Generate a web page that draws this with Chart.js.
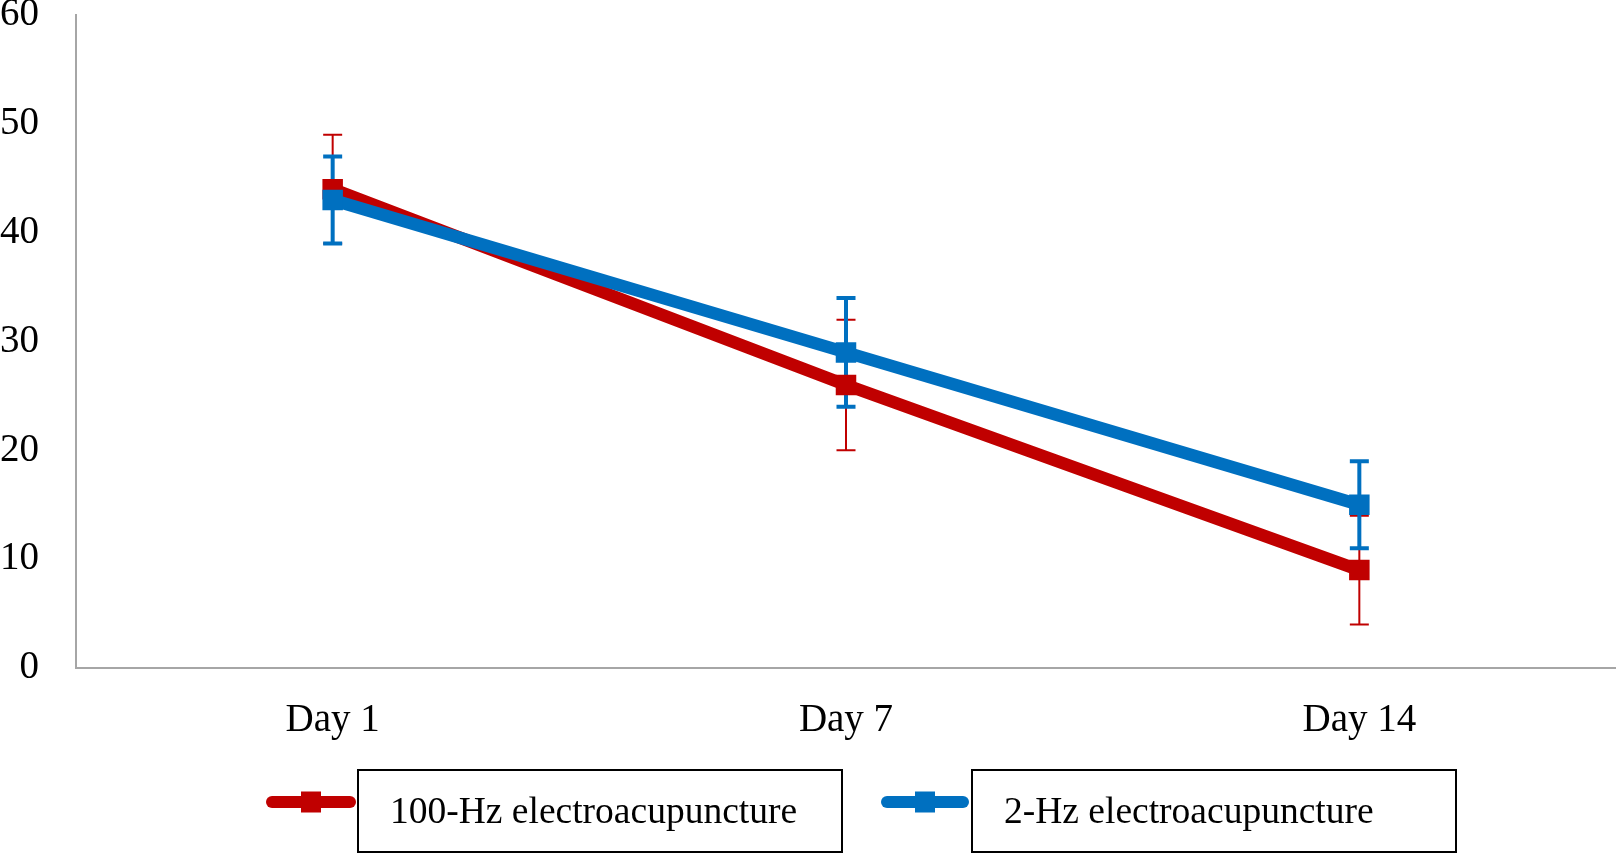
<!DOCTYPE html>
<html>
<head>
<meta charset="utf-8">
<style>
  html, body { margin: 0; padding: 0; background: #fff; overflow: hidden; }
  #wrap { width: 1616px; height: 854px; }
  canvas { display: block; }
</style>
<script src="https://cdn.jsdelivr.net/npm/chart.js@4.4.1/dist/chart.umd.min.js"></script>
</head>
<body>
<div id="wrap"><canvas id="chart" width="1616" height="854"></canvas></div>
<script>
'use strict'

// data
const days = ['Day 1', 'Day 7', 'Day 14']
const hz100 = [44, 26, 9]
const hz100Err = [5, 6, 5]
const hz2 = [43, 29, 15]
const hz2Err = [4, 5, 4]
const yTicks = [0, 10, 20, 30, 40, 50, 60]

const colors = {
  red: '#c00000',
  blue: '#0070c0',
  axis: '#a6a6a6'
}
const font = '"Liberation Serif", "Times New Roman", serif'

// error bars, drawn under the lines
const errorBarPlugin = {
  id: 'errorBars',
  beforeDatasetsDraw(chart) {
    const ctx = chart.ctx
    const x = chart.scales.x
    const y = chart.scales.y
    chart.data.datasets.forEach((ds) => {
      ctx.save()
      ctx.strokeStyle = ds.borderColor
      ctx.lineWidth = ds.errWidth
      ds.data.forEach((v, i) => {
        const px = x.getPixelForValue(i)
        const top = y.getPixelForValue(v + ds.err[i])
        const bot = y.getPixelForValue(v - ds.err[i])
        const cap = 9.5
        ctx.beginPath()
        ctx.moveTo(px, top); ctx.lineTo(px, bot)
        ctx.moveTo(px - cap, top); ctx.lineTo(px + cap, top)
        ctx.moveTo(px - cap, bot); ctx.lineTo(px + cap, bot)
        ctx.stroke()
      })
      ctx.restore()
    })
  }
}

// boxed legend entries below the axis
const boxLegendPlugin = {
  id: 'boxLegend',
  afterDraw(chart) {
    const ctx = chart.ctx
    const entries = [
      { label: '100-Hz electroacupuncture', color: colors.red, x0: 272, x1: 350, box: [358, 842] },
      { label: '2-Hz electroacupuncture', color: colors.blue, x0: 887, x1: 963, box: [972, 1456] },
    ]
    const ly = 802
    entries.forEach(e => {
      ctx.save()
      ctx.strokeStyle = e.color
      ctx.lineWidth = 12
      ctx.lineCap = 'round'
      ctx.beginPath()
      ctx.moveTo(e.x0, ly); ctx.lineTo(e.x1, ly)
      ctx.stroke()
      ctx.fillStyle = e.color
      const mx = (e.x0 + e.x1) / 2
      ctx.fillRect(mx - 10, ly - 10.5, 20, 21)
      ctx.strokeStyle = '#000'
      ctx.lineWidth = 2
      ctx.lineCap = 'butt'
      ctx.strokeRect(e.box[0], 770, e.box[1] - e.box[0], 82)
      ctx.fillStyle = '#000'
      ctx.font = '37.5px ' + font
      ctx.textBaseline = 'middle'
      ctx.fillText(e.label, e.box[0] + 32, 813)
      ctx.restore()
    })
  }
}

const data = {
  labels: days,
  datasets: [
    {
      label: '100-Hz electroacupuncture',
      data: hz100,
      err: hz100Err,
      errWidth: 2,
      borderColor: colors.red,
      backgroundColor: colors.red,
      borderWidth: 12.5,
      pointStyle: 'rect',
      pointRadius: 14.5,
      pointBorderWidth: 0,
      order: 1,
    },
    {
      label: '2-Hz electroacupuncture',
      data: hz2,
      err: hz2Err,
      errWidth: 4,
      borderColor: colors.blue,
      backgroundColor: colors.blue,
      borderWidth: 12.5,
      pointStyle: 'rect',
      pointRadius: 14.5,
      pointBorderWidth: 0,
      order: 0,
    }
  ]
}

const config = {
  type: 'line',
  data: data,
  options: {
    responsive: false,
    animation: false,
    layout: { autoPadding: false, padding: { top: 15, left: 0, right: 0, bottom: 0 } },
    plugins: {
      legend: { display: false },
      tooltip: { enabled: false },
    },
    scales: {
      x: {
        offset: true,
        grid: { color: 'transparent', drawTicks: false },
        border: { color: colors.axis, width: 2 },
        ticks: {
          color: '#000',
          font: { family: font, size: 39 },
          padding: 29,
          maxRotation: 0,
        },
        afterFit: (scale) => {
          scale.height = 186
          scale.paddingLeft = 0
          scale.paddingRight = 0
        }
      },
      y: {
        min: 0,
        max: 60,
        grid: { color: 'transparent', drawTicks: false },
        border: { color: colors.axis, width: 2 },
        afterBuildTicks: (scale) => {
          scale.ticks = yTicks.map(v => ({ value: v }))
        },
        ticks: {
          color: '#000',
          font: { family: font, size: 39 },
          padding: 37,
        },
        afterFit: (scale) => {
          scale.width = 76
          scale.paddingTop = 0
          scale.paddingBottom = 0
        }
      }
    }
  },
  plugins: [errorBarPlugin, boxLegendPlugin, {
    id: 'whiteBg',
    beforeDraw(chart) {
      const ctx = chart.ctx
      ctx.save()
      ctx.fillStyle = '#fff'
      ctx.fillRect(0, 0, chart.width, chart.height)
      ctx.restore()
    }
  }]
}

new Chart(document.getElementById('chart'), config)
</script>
</body>
</html>
